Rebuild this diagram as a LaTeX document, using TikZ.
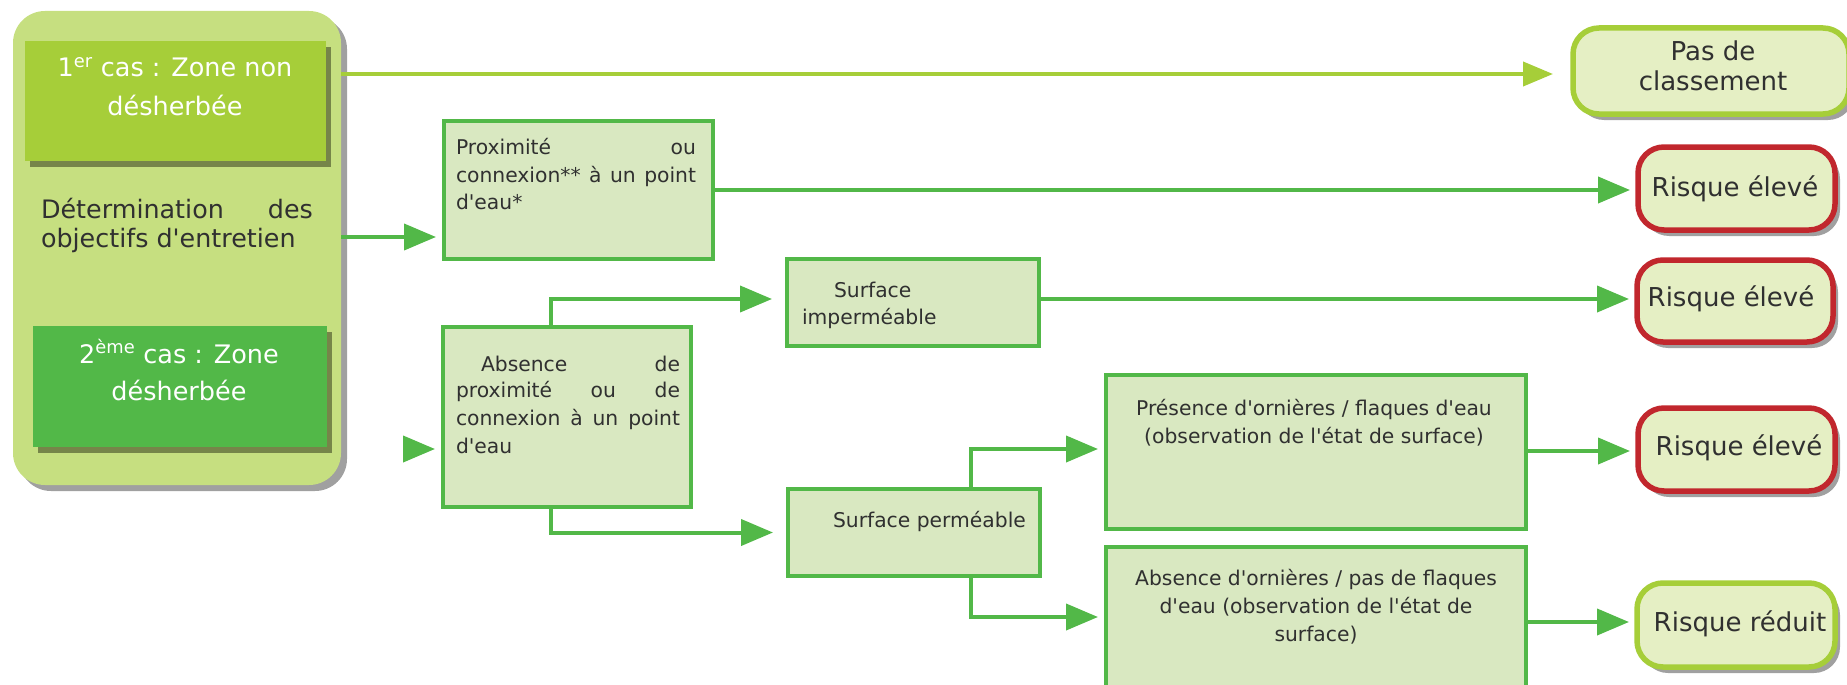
\documentclass[tikz,border=0pt]{standalone}
\usepackage{fontspec}
\setmainfont{DejaVu Sans}[Ligatures=TeXOff]
\usetikzlibrary{arrows.meta,calc,shadows}
\definecolor{bgouter}{HTML}{C6DF80}
\definecolor{caseA}{HTML}{A6CE39}
\definecolor{caseB}{HTML}{52B848}
\definecolor{olive}{HTML}{768549}
\definecolor{shgray}{HTML}{A0A0A0}
\definecolor{gstroke}{HTML}{52B848}
\definecolor{gfill}{HTML}{D9E8C1}
\definecolor{rfill}{HTML}{E5EFC4}
\definecolor{rred}{HTML}{C1272D}
\definecolor{rlight}{HTML}{A6CE39}
\definecolor{txt}{HTML}{303030}
\newcommand\fRes{\fontsize{26pt}{32pt}\selectfont}
\newcommand\fIn{\fontsize{20.3pt}{26pt}\selectfont}
\newcommand\fLeft{\fontsize{25.5pt}{32pt}\selectfont}
\newcommand\fDet{\fontsize{25.4pt}{32pt}\selectfont}
\begin{document}
\begin{tikzpicture}[x=1pt,y=-1pt,
  every node/.style={inner sep=0pt, outer sep=0pt},
  outerbox/.style={fill=bgouter, rounded corners=32pt, anchor=north west,
    drop shadow={shadow xshift=6pt,shadow yshift=-6pt,fill=shgray,opacity=1}},
  casebox/.style={anchor=north west,
    drop shadow={shadow xshift=5pt,shadow yshift=-6pt,fill=olive,opacity=1}},
  gbox/.style={draw=gstroke, line width=4pt, fill=gfill, anchor=north west},
  resbox/.style={rounded corners=26pt, fill=rfill, line width=5.5pt, anchor=north west,
    drop shadow={shadow xshift=5pt,shadow yshift=-6pt,fill=shgray,opacity=1}},
  resred/.style={resbox, draw=rred},
  resgreen/.style={resbox, draw=rlight},
  conn/.style={draw=gstroke, line width=4pt, -{Triangle[length=32pt,width=26pt]}},
  connA/.style={draw=caseA, line width=4pt, -{Triangle[length=30pt,width=24pt]}},
  wtxt/.style={text=white, font=\fLeft, anchor=base},
  dtxt/.style={text=txt, font=\fDet, anchor=base west},
  itxt/.style={text=txt, font=\fIn},
  rtxt/.style={text=txt, font=\fRes, anchor=base},
]
\useasboundingbox (0,0) rectangle (1847,685);
\clip (0,0) rectangle (1847,685);

% left panel
\node[outerbox, minimum width=328pt, minimum height=474pt] (outer) at (13,11) {};
\node[casebox, fill=caseA, minimum width=301pt, minimum height=120pt] (case1) at (25,41) {};
\node[casebox, fill=caseB, minimum width=294pt, minimum height=121pt] (case2) at (33,326) {};
\node[wtxt] (c1a) at (175,77) {1\textsuperscript{er} cas : Zone non};
\node[wtxt] (c1b) at (175,115) {désherbée};
\node[wtxt] (c2a) at (179,363) {2\textsuperscript{ème} cas : Zone};
\node[wtxt] (c2b) at (179,400) {désherbée};
\node[dtxt] (det1) at (41,218) {\makebox[272pt][s]{Détermination des}};
\node[dtxt] (det2) at (41,247) {objectifs d'entretien};

% green boxes
\node[gbox, minimum width=269pt, minimum height=138pt] (prox) at (444,121) {};
\node[gbox, minimum width=252pt, minimum height=87pt] (simp) at (787,259) {};
\node[gbox, minimum width=248pt, minimum height=180pt] (abs) at (443,327) {};
\node[gbox, minimum width=252pt, minimum height=87pt] (sperm) at (788,489) {};
\node[gbox, minimum width=420pt, minimum height=154pt] (pres) at (1106,375) {};
\node[gbox, minimum width=420pt, minimum height=180pt] (absorn) at (1106,547) {};

% result boxes
\node[resgreen, minimum width=276pt, minimum height=86pt] (pas) at (1573,28) {};
\node[resred, minimum width=197pt, minimum height=83pt] (r1) at (1638,147) {};
\node[resred, minimum width=196pt, minimum height=82pt] (r2) at (1637,260) {};
\node[resred, minimum width=197pt, minimum height=83pt] (r3) at (1638,408) {};
\node[resgreen, minimum width=198pt, minimum height=84pt] (r4) at (1637,583) {};

% connectors
\coordinate (stub) at (404,449);
\draw[connA, shorten >=20pt] (outer.east |- 0,74) -- (pas.west |- 0,74);
\draw[conn, shorten >=8pt] (outer.east |- 0,237) -- (prox.west |- 0,237);
\draw[conn, shorten >=8pt] (stub) -- (abs.west |- stub);
\draw[conn, shorten >=8pt] (prox.east) -- (prox.east -| r1.west);
\draw[conn, shorten >=8pt] (simp.east |- 0,299) -- (r2.west |- 0,299);
\draw[conn, shorten >=15pt] (abs.north -| 551,0) |- (simp.west |- 0,299);
\draw[conn, shorten >=15pt] (abs.south -| 551,0) |- (sperm.west);
\draw[conn, shorten >=8pt] (sperm.north -| 971,0) |- (pres.west |- 0,449);
\draw[conn, shorten >=8pt] (sperm.south -| 971,0) |- (absorn.west |- 0,617);
\draw[conn, shorten >=8pt] (pres.east |- 0,451) -- (r3.west |- 0,451);
\draw[conn, shorten >=8pt] (absorn.east |- 0,622) -- (r4.west |- 0,622);

% texts in green boxes
\node[itxt, anchor=base west] (prox1) at (456,154) {\makebox[240pt][s]{Proximité ou}};
\node[itxt, anchor=base west] (prox2) at (456,182) {\makebox[240pt][s]{connexion** à un point}};
\node[itxt, anchor=base west] (prox3) at (456,209) {d'eau*};
\node[itxt, anchor=base west] (simp1) at (834,297) {Surface};
\node[itxt, anchor=base west] (simp2) at (802,324) {imperméable};
\node[itxt, anchor=base west] (abs1) at (456,371) {\makebox[224pt][l]{\hspace*{25pt}Absence\hfill de}};
\node[itxt, anchor=base west] (abs2) at (456,397) {\makebox[224pt][s]{proximité ou de}};
\node[itxt, anchor=base west] (abs3) at (456,425) {\makebox[224pt][s]{connexion à un point}};
\node[itxt, anchor=base west] (abs4) at (456,453) {d'eau};
\node[itxt, anchor=base west] (sperm1) at (833,527) {Surface perméable};
\node[itxt, anchor=base] (pres1) at (1314,415) {Présence d'ornières / flaques d'eau};
\node[itxt, anchor=base] (pres2) at (1314,443) {(observation de l'état de surface)};
\node[itxt, anchor=base] (ao1) at (1316,585) {Absence d'ornières / pas de flaques};
\node[itxt, anchor=base] (ao2) at (1316,613) {d'eau (observation de l'état de};
\node[itxt, anchor=base] (ao3) at (1316,641) {surface)};

% texts in result boxes
\node[rtxt] (pas1) at (1713,61) {Pas de};
\node[rtxt] (pas2) at (1713,90) {classement};
\node[rtxt] (r1t) at (1735,196) {Risque élevé};
\node[rtxt] (r2t) at (1731,306) {Risque élevé};
\node[rtxt] (r3t) at (1739,455) {Risque élevé};
\node[rtxt] (r4t) at (1740,631) {Risque réduit};
\end{tikzpicture}
\end{document}
